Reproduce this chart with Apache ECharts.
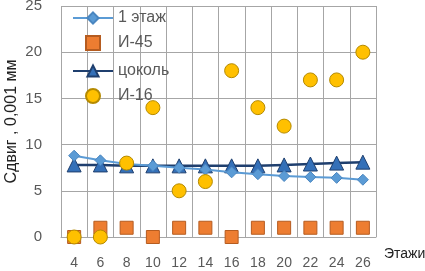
<!DOCTYPE html>
<html>
<head>
<meta charset="utf-8">
<script src="https://cdn.jsdelivr.net/npm/echarts@6/dist/echarts.min.js"></script>
<style>
  html, body { margin: 0; padding: 0; background: #fff; }
  #chart { width: 425px; height: 271px; }
</style>
</head>
<body>
<div id="chart"></div>
<script>
// floors (x axis)
const floors = ["4", "6", "8", "10", "12", "14", "16", "18", "20", "22", "24", "26"];

// series values, 0.001 mm
const floor1 = [8.8, 8.3, 7.9, 7.7, 7.5, 7.3, 7.0, 6.8, 6.6, 6.5, 6.4, 6.2];
const i45 = [0, 1, 1, 0, 1, 1, 0, 1, 1, 1, 1, 1];
const plinth = [7.8, 7.8, 7.7, 7.7, 7.7, 7.7, 7.7, 7.7, 7.8, 7.9, 8.0, 8.1];
const i16 = [0, 0, 8, 14, 5, 6, 18, 14, 12, 17, 17, 20];

const chart = echarts.init(document.getElementById("chart"));

const gridColor = "#a6a6a6";
const labelColor = "#595959";
const font = "Liberation Sans, Arial, sans-serif";
const legendText = { color: labelColor, fontSize: 16, fontFamily: font };

chart.setOption({
    backgroundColor: "#fff",
    animation: false,
    textStyle: { fontFamily: font },

    grid: { left: 61, right: 49, top: 6, bottom: 34, containLabel: false, outerBoundsMode: "none" },

    // lines and scatter symbols need different icon widths -> two legends
    legend: [
        {
            orient: "vertical",
            left: 72,
            top: 10,
            padding: 0,
            itemWidth: 40,
            itemHeight: 14,
            itemGap: 37,
            textStyle: legendText,
            data: ["1 этаж", "цоколь"]
        },
        {
            orient: "vertical",
            left: 85,
            top: 35,
            padding: 0,
            itemWidth: 14,
            itemHeight: 14,
            itemGap: 37,
            textStyle: Object.assign({}, legendText, { padding: [0, 0, 0, 13] }),
            data: ["И-45", "И-16"]
        }
    ],

    xAxis: {
        type: "category",
        data: floors,
        boundaryGap: true,
        name: "Этажи",
        nameLocation: "end",
        nameGap: 8,
        nameMoveOverlap: false,
        nameTextStyle: { color: "#222", fontSize: 14, verticalAlign: "top", padding: [10, 0, 0, 0] },
        axisLine: { lineStyle: { color: gridColor } },
        axisTick: { show: false },
        axisLabel: { color: labelColor, fontSize: 14, margin: 19, interval: 0 },
        splitLine: { show: true, interval: 0, lineStyle: { color: gridColor, width: 1 } }
    },

    yAxis: {
        type: "value",
        min: 0,
        max: 25,
        interval: 5,
        name: "Сдвиг , 0,001 мм",
        nameLocation: "middle",
        nameGap: 41,
        nameMoveOverlap: false,
        nameTextStyle: { color: "#222", fontSize: 16 },
        axisLine: { show: false },
        axisTick: { show: false },
        axisLabel: { color: labelColor, fontSize: 15, margin: 19 },
        splitLine: { lineStyle: { color: gridColor, width: 1 } }
    },

    series: [
        {
            name: "1 этаж",
            type: "line",
            data: floor1,
            symbol: "diamond",
            symbolSize: 11,
            z: 3,
            lineStyle: { color: "#5b9bd5", width: 2 },
            itemStyle: { color: "#5b9bd5", borderColor: "#4a86c0", borderWidth: 1 }
        },
        {
            name: "И-45",
            type: "scatter",
            data: i45,
            symbol: "rect",
            symbolSize: 13,
            z: 2,
            itemStyle: { color: "#ed7d31", borderColor: "#b55c20", borderWidth: 1, opacity: 1 }
        },
        {
            name: "цоколь",
            type: "line",
            data: plinth,
            symbol: "triangle",
            symbolSize: 14,
            z: 2,
            lineStyle: { color: "#1f3f6e", width: 2.5 },
            itemStyle: { color: "#3470b8", borderColor: "#1f3f6e", borderWidth: 1 }
        },
        {
            name: "И-16",
            type: "scatter",
            data: i16,
            symbol: "circle",
            symbolSize: 14,
            z: 4,
            itemStyle: { color: "#ffc000", borderColor: "#b58a00", borderWidth: 1, opacity: 1 }
        }
    ]
});
</script>
</body>
</html>
